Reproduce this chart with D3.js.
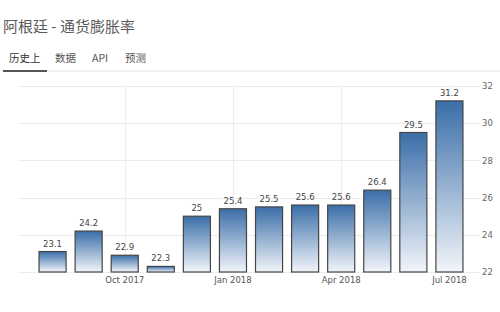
<!DOCTYPE html>
<html>
<head>
<meta charset="utf-8">
<script src="https://cdn.jsdelivr.net/npm/d3@7/dist/d3.min.js"></script>
<style>
  html, body { margin: 0; padding: 0; background: #fff; }
  svg { display: block; }
</style>
</head>
<body>
<svg id="chart" width="500" height="312"></svg>
<script>
// Argentina inflation rate, monthly (Aug 2017 – Jul 2018)
const months = ["Aug 2017","Sep 2017","Oct 2017","Nov 2017","Dec 2017","Jan 2018",
                "Feb 2018","Mar 2018","Apr 2018","May 2018","Jun 2018","Jul 2018"];
const values = [23.1, 24.2, 22.9, 22.3, 25, 25.4, 25.5, 25.6, 25.6, 26.4, 29.5, 31.2];
const xTickLabels = ["Oct 2017", "Jan 2018", "Apr 2018", "Jul 2018"];
const yTicks = [22, 24, 26, 28, 30, 32];
const titleText = "阿根廷 - 通货膨胀率";
const tabs = ["历史上", "数据", "API", "预测"];

const svg = d3.select("#chart");
const font = "'Noto Sans CJK SC', 'Noto Sans', sans-serif";

// Header
svg.append("text")
  .attr("x", 3).attr("y", 32)
  .attr("font-family", font).attr("font-size", 15)
  .attr("fill", "#5a5a5a")
  .text(titleText);

const tabX = [9, 55, 92, 125];
svg.selectAll("text.tab").data(tabs).join("text")
  .attr("class", "tab")
  .attr("x", (d, i) => tabX[i]).attr("y", 62)
  .attr("font-family", font).attr("font-size", 10.5)
  .attr("fill", (d, i) => i === 0 ? "#333" : "#555")
  .text(d => d);

svg.append("line")
  .attr("x1", 3).attr("x2", 500).attr("y1", 71).attr("y2", 71)
  .attr("stroke", "#e2e2e2").attr("stroke-width", 1);
svg.append("line")
  .attr("x1", 3).attr("x2", 47).attr("y1", 71).attr("y2", 71)
  .attr("stroke", "#555").attr("stroke-width", 2);

// Scales
const x = d3.scaleBand().domain(months).range([21, 481]).paddingInner(0.25).paddingOuter(0.5);
const y = d3.scaleLinear().domain([22, 32]).range([272, 86]);

// Gradient fill for bars
const defs = svg.append("defs");
const grad = defs.append("linearGradient")
  .attr("id", "barGrad").attr("x1", 0).attr("y1", 0).attr("x2", 0).attr("y2", 1);
grad.append("stop").attr("offset", "0%").attr("stop-color", "#3a6ea8");
grad.append("stop").attr("offset", "100%").attr("stop-color", "#f2f5fa");

// Grid
const grid = svg.append("g");
grid.selectAll("line.h").data(yTicks).join("line")
  .attr("x1", 18).attr("x2", 480)
  .attr("y1", d => Math.round(y(d)) + 0.5).attr("y2", d => Math.round(y(d)) + 0.5)
  .attr("stroke", "#ececec");
grid.selectAll("line.v").data(xTickLabels).join("line")
  .attr("x1", d => Math.round(x(d) + x.bandwidth() / 2) + 0.5)
  .attr("x2", d => Math.round(x(d) + x.bandwidth() / 2) + 0.5)
  .attr("y1", y(32)).attr("y2", y(22))
  .attr("stroke", "#ececec");

// Bars
svg.selectAll("rect.bar").data(values).join("rect")
  .attr("class", "bar")
  .attr("x", (d, i) => x(months[i]))
  .attr("width", x.bandwidth())
  .attr("y", d => y(d))
  .attr("height", d => y(22) - y(d))
  .attr("fill", "url(#barGrad)")
  .attr("stroke", "#454545").attr("stroke-width", 1.2);

// Value labels
svg.selectAll("text.val").data(values).join("text")
  .attr("class", "val")
  .attr("x", (d, i) => x(months[i]) + x.bandwidth() / 2)
  .attr("y", d => y(d) - 5)
  .attr("text-anchor", "middle")
  .attr("font-family", "'DejaVu Sans', sans-serif").attr("font-size", 8.5)
  .attr("fill", "#444")
  .text(d => d);

// X axis labels
const xAxis = d3.axisBottom(x).tickValues(xTickLabels).tickSize(0).tickPadding(5);
const gx = svg.append("g").attr("transform", `translate(0,${y(22)})`).call(xAxis);
gx.select(".domain").remove();
gx.selectAll("text")
  .attr("font-family", "'DejaVu Sans', sans-serif").attr("font-size", 8.5)
  .attr("fill", "#555");

// Y axis labels (right side)
const yAxis = d3.axisRight(y).tickValues(yTicks).tickSize(0).tickPadding(0).tickFormat(d3.format("d"));
const gy = svg.append("g").attr("transform", "translate(482,0)").call(yAxis);
gy.select(".domain").remove();
gy.selectAll("text")
  .attr("font-family", "'DejaVu Sans', sans-serif").attr("font-size", 8.5)
  .attr("fill", "#666");
</script>
</body>
</html>
